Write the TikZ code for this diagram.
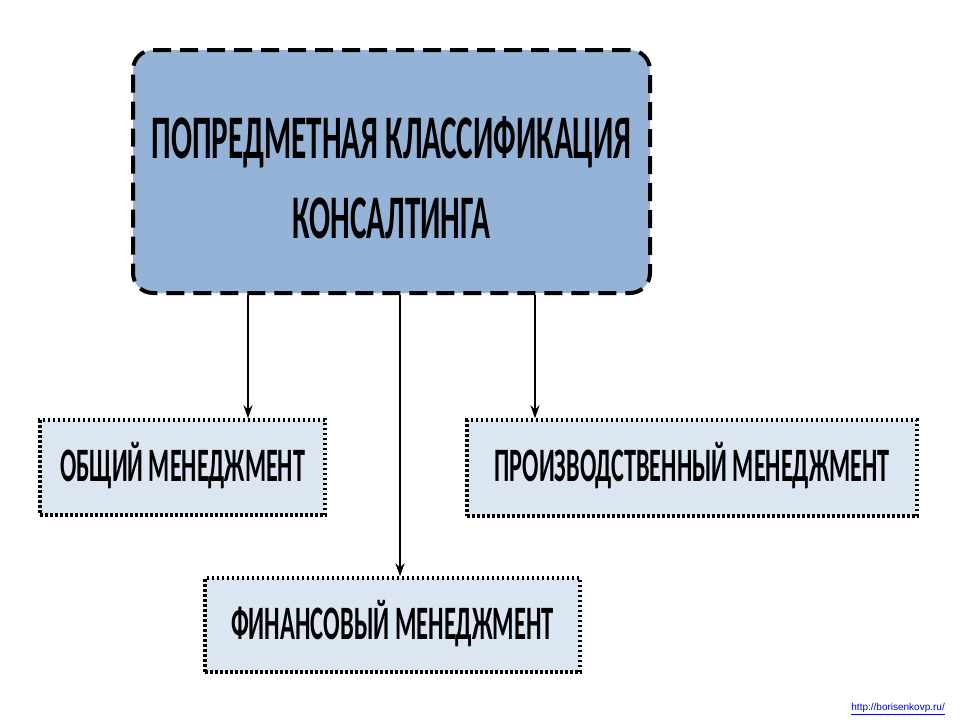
\documentclass[tikz,border=0pt]{standalone}
\usepackage{fontspec}
\setmainfont{Carlito}
\newfontfamily\urlfont{Liberation Sans}
\usetikzlibrary{arrows.meta}
\definecolor{mainfill}{RGB}{149,179,215}
\definecolor{subfill}{RGB}{220,230,242}
\definecolor{linkblue}{RGB}{0,0,230}
\newcommand\sq[2]{\resizebox{#1}{\height}{#2}}
\tikzset{
  mainbox/.style={draw=black, fill=mainfill, line width=4pt, dash pattern=on 18pt off 9pt, rounded corners=20pt, align=center, inner sep=0pt},
  subbox/.style={draw=black, fill=subfill, line width=3.5pt, dash pattern=on 2.5pt off 2.5pt, inner sep=0pt},
  conn/.style={line width=2pt, -{Stealth[length=13pt,width=9pt]}},
  bigtxt/.style={font=\bfseries\fontsize{62}{80}\selectfont},
  subtxt/.style={font=\bfseries\fontsize{48}{50}\selectfont}
}
\begin{document}
\begin{tikzpicture}[x=1pt,y=-1pt]
\useasboundingbox (0,0) rectangle (960,720);
\fill[white] (0,0) rectangle (960,720);
\node[mainbox, minimum width=517pt, minimum height=243pt] (main) at (391.5,171.5) {};
\node[bigtxt, align=center] (maint) at (391.5,178) {\sq{480pt}{ПОПРЕДМЕТНАЯ КЛАССИФИКАЦИЯ}\\\sq{198pt}{КОНСАЛТИНГА}};
\node[subbox, minimum width=285pt, minimum height=95pt] (gen) at (182.5,467.5) {};
\node[subtxt] (gent) at (182.5,466) {\sq{245pt}{ОБЩИЙ МЕНЕДЖМЕНТ}};
\node[subbox, minimum width=450pt, minimum height=96pt] (prod) at (692,468) {};
\node[subtxt] (prodt) at (692,466) {\sq{395pt}{ПРОИЗВОДСТВЕННЫЙ МЕНЕДЖМЕНТ}};
\node[subbox, minimum width=375pt, minimum height=94pt] (fin) at (392.5,625) {};
\node[subtxt] (fint) at (392.5,624) {\sq{323pt}{ФИНАНСОВЫЙ МЕНЕДЖМЕНТ}};
\draw[conn] (main.south -| 248,0) -- (gen.north -| 248,0);
\draw[conn] (main.south -| 400,0) -- (fin.north -| 400,0);
\draw[conn] (main.south -| 535,0) -- (prod.north -| 535,0);
\node[anchor=south east, inner sep=0pt, font=\urlfont\fontsize{10}{12}\selectfont, text=linkblue] (url) at (945,715) {\underline{http://borisenkovp.ru/}};
\end{tikzpicture}
\end{document}
